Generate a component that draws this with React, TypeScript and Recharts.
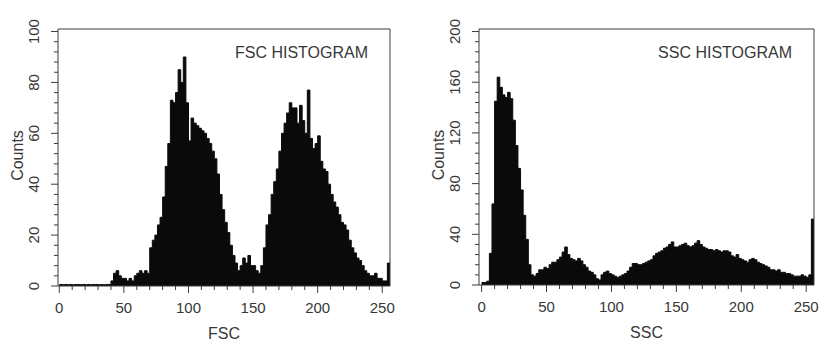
import React from 'react';
import { AreaChart, Area, XAxis, YAxis, ReferenceArea } from 'recharts';

// Histogram bin width (channels per bin); bins start at 0, 2, 4, ... 254
const BIN_WIDTH = 2;

// FSC histogram counts (128 bins of 2 channels)
const fscCounts = [
  0.6, 0.5, 0.6, 0.5, 0.6, 0.5, 0.6, 0.6, 0.5, 0.6,
  0.5, 0.6, 0.5, 0.6, 0.6, 0.5, 0.6, 0.5, 0.6, 0.6,
  2, 5, 6, 4, 3, 3, 2, 3, 2, 4,
  5, 6, 5, 6, 5, 15, 18, 20, 24, 27,
  35, 47, 56, 73, 72, 76, 85, 80, 90, 72,
  57, 66, 64, 63, 62, 61, 60, 58, 56, 53,
  50, 44, 36, 30, 25, 21, 16, 12, 9, 6,
  8, 11, 9, 12, 8, 8, 6, 5, 8, 15,
  24, 28, 36, 41, 46, 53, 60, 64, 68, 72,
  70, 70, 64, 71, 65, 60, 77, 58, 54, 56,
  59, 49, 46, 45, 40, 36, 33, 31, 28, 25,
  24, 22, 18, 15, 13, 11, 10, 8, 6, 5,
  4, 4, 5, 3, 3, 2, 2, 9,
];

// SSC histogram counts (128 bins of 2 channels)
const sscCounts = [
  2, 2, 3, 25, 64, 145, 164, 156, 150, 148,
  152, 147, 130, 110, 92, 75, 55, 36, 16, 8,
  7, 9, 12, 12, 14, 13, 16, 18, 18, 20,
  22, 26, 30, 24, 21, 20, 19, 21, 19, 16,
  14, 11, 10, 8, 5, 4, 8, 10, 11, 9,
  8, 7, 6, 7, 8, 9, 11, 14, 17, 17,
  16, 16, 17, 18, 19, 20, 23, 25, 26, 27,
  29, 30, 32, 34, 30, 30, 31, 32, 33, 31,
  30, 31, 33, 35, 32, 30, 29, 28, 28, 27,
  28, 27, 26, 27, 27, 26, 23, 22, 24, 21,
  20, 19, 18, 20, 21, 20, 18, 17, 16, 15,
  14, 12, 12, 11, 12, 10, 10, 9, 9, 8,
  7, 7, 7, 8, 7, 6, 8, 52,
];

// Axis ticks
const xTicks = [0, 10, 20, 30, 40, 50, 60, 70, 80, 90, 100, 110, 120, 130, 140, 150, 160, 170, 180, 190, 200, 210, 220, 230, 240, 250];
const xTickLabels = [0, 50, 100, 150, 200, 250];
const fscYTicks = [0, 4, 8, 12, 16, 20, 24, 28, 32, 36, 40, 44, 48, 52, 56, 60, 64, 68, 72, 76, 80, 84, 88, 92, 96, 100];
const fscYTickLabels = [0, 20, 40, 60, 80, 100];
const sscYTicks = [0, 8, 16, 24, 32, 40, 48, 56, 64, 72, 80, 88, 96, 104, 112, 120, 128, 136, 144, 152, 160, 168, 176, 184, 192, 200];
const sscYTickLabels = [0, 40, 80, 120, 160, 200];

const FONT = '"Liberation Sans", Arial, Helvetica, sans-serif';
const AXIS = '#3c3c3c';
const TEXT = '#383838';

function toData(counts: number[]) {
  const d = counts.map((c, i) => ({ x: i * BIN_WIDTH, c }));
  d.push({ x: counts.length * BIN_WIDTH, c: counts[counts.length - 1] });
  return d;
}

type PanelProps = {
  counts: number[];
  title: string;
  xLabel: string;
  yMax: number;
  yTicks: number[];
  yLabels: number[];
  xMin: number;
  left: number;
  width: number;
  marginRight: number;
  yAxisWidth: number;
  xAxisHeight: number;
};

function Panel(p: PanelProps) {
  const data = toData(p.counts);
  const XTick = (props: any) => {
    const { x, y, payload } = props;
    const major = xTickLabels.includes(payload.value);
    return (
      <g>
        <line x1={x} x2={x} y1={y} y2={y + (major ? 7 : 4)} stroke={AXIS} strokeWidth={1} />
        {major && (
          <text x={x} y={y + 21} textAnchor="middle" dominantBaseline="central" fontSize={15} fill={TEXT} fontFamily={FONT}>
            {payload.value}
          </text>
        )}
      </g>
    );
  };
  const YTick = (props: any) => {
    const { x, y, payload } = props;
    const major = p.yLabels.includes(payload.value);
    return (
      <g>
        <line x1={x} x2={x - (major ? 7 : 4)} y1={y} y2={y} stroke={AXIS} strokeWidth={1} />
        {major && (
          <text
            transform={`translate(${x - 25},${y}) rotate(-90)`}
            textAnchor="middle"
            dominantBaseline="central"
            fontSize={15}
            fill={TEXT}
            fontFamily={FONT}
          >
            {payload.value}
          </text>
        )}
      </g>
    );
  };
  const YLabel = (props: any) => {
    const vb = props.viewBox || {};
    const cx = vb.x + vb.width - 41;
    const cy = vb.y + vb.height / 2 - 2;
    return (
      <text transform={`translate(${cx},${cy}) rotate(-90)`} textAnchor="middle" dominantBaseline="central" fontSize={16} fill={TEXT} fontFamily={FONT}>
        Counts
      </text>
    );
  };
  const XLabel = (props: any) => {
    const vb = props.viewBox || {};
    return (
      <text x={vb.x + vb.width / 2} y={vb.y + 47} textAnchor="middle" dominantBaseline="central" fontSize={16} fill={TEXT} fontFamily={FONT}>
        {p.xLabel}
      </text>
    );
  };
  const TitleLabel = (props: any) => {
    const vb = props.viewBox || {};
    return (
      <text x={vb.x + vb.width - 22} y={vb.y + 23} textAnchor="end" dominantBaseline="central" fontSize={16} fill={TEXT} fontFamily={FONT}>
        {p.title}
      </text>
    );
  };
  return (
    <div style={{ position: 'absolute', left: p.left, top: 0, width: p.width, height: 340 }}>
      <AreaChart width={p.width} height={340} data={data} margin={{ top: 29, right: p.marginRight, bottom: 0, left: 0 }}>
        <XAxis
          dataKey="x"
          type="number"
          domain={[p.xMin, 256]}
          allowDataOverflow
          ticks={xTicks}
          interval={0}
          tick={XTick}
          tickLine={false}
          axisLine={false}
          tickSize={0}
          tickMargin={0}
          height={p.xAxisHeight}
          label={{ content: XLabel }}
        />
        <YAxis
          type="number"
          domain={[0, p.yMax]}
          allowDataOverflow
          ticks={p.yTicks}
          interval={0}
          tick={YTick}
          tickLine={false}
          axisLine={false}
          tickSize={0}
          tickMargin={0}
          width={p.yAxisWidth}
          label={{ content: YLabel }}
        />
        <Area
          dataKey="c"
          type="stepAfter"
          stroke="#0a0a0a"
          strokeWidth={1}
          fill="#0a0a0a"
          fillOpacity={1}
          isAnimationActive={false}
          dot={false}
          activeDot={false}
        />
        <ReferenceArea
          x1={p.xMin}
          x2={256}
          y1={0}
          y2={p.yMax}
          fill="none"
          stroke={AXIS}
          strokeWidth={1}
          label={{ content: TitleLabel }}
        />
      </AreaChart>
    </div>
  );
}

export default function App() {
  return (
    <div style={{ position: 'absolute', left: 0, top: 0, width: 823, height: 340, background: '#fff' }}>
      <Panel
        counts={fscCounts}
        title="FSC HISTOGRAM"
        xLabel="FSC"
        yMax={101}
        yTicks={fscYTicks}
        yLabels={fscYTickLabels}
        xMin={-1}
        left={0}
        width={411}
        marginRight={21}
        yAxisWidth={58}
        xAxisHeight={54}
      />
      <Panel
        counts={sscCounts}
        title="SSC HISTOGRAM"
        xLabel="SSC"
        yMax={202}
        yTicks={sscYTicks}
        yLabels={sscYTickLabels}
        xMin={-2}
        left={411}
        width={412}
        marginRight={9}
        yAxisWidth={68}
        xAxisHeight={55}
      />
    </div>
  );
}
